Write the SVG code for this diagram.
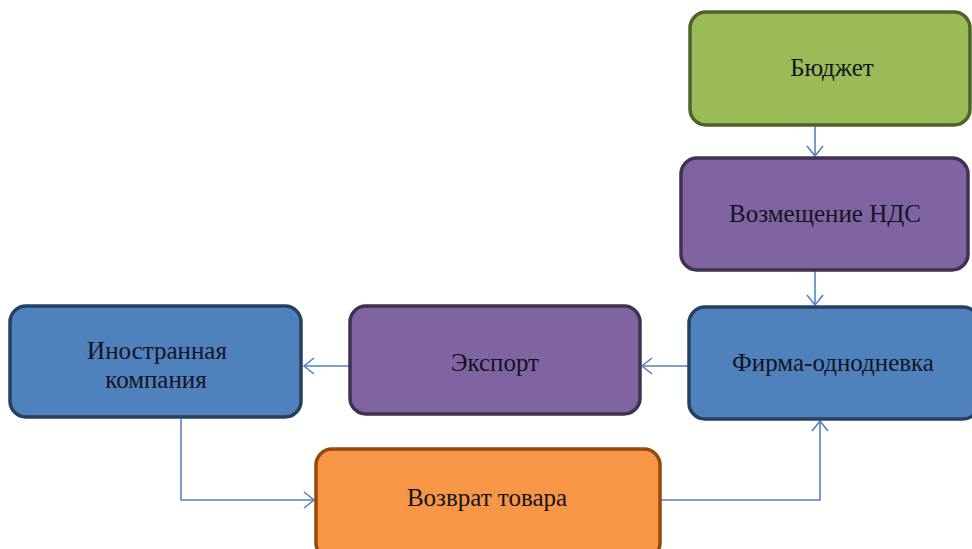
<svg xmlns="http://www.w3.org/2000/svg" width="972" height="549" viewBox="0 0 972 549">
<defs>
<style>
.box{stroke-width:3.5}
.g{fill:#9bbb59;stroke:#4f6228}
.p{fill:#8064a2;stroke:#3f3151}
.b{fill:#4f81bd;stroke:#244062}
.o{fill:#f79646;stroke:#984807}
.t{font-family:"Liberation Serif","Times New Roman",serif;font-size:25px;fill:#14141e;text-anchor:middle}
.c{fill:none;stroke:#5582bd;stroke-width:1.6}
</style>
<marker id="ah" markerUnits="userSpaceOnUse" markerWidth="20" markerHeight="20" viewBox="-12 -10 14 20" refX="0" refY="0" orient="auto">
<path d="M-10,-8 L0,0 L-10,8" fill="none" stroke="#5582bd" stroke-width="1.6"/>
</marker>
</defs>
<rect width="972" height="549" fill="#ffffff"/>
<g id="connectors">
<path class="c" d="M815,126 V156" marker-end="url(#ah)"/>
<path class="c" d="M815,271 V305" marker-end="url(#ah)"/>
<path class="c" d="M688,366 H642" marker-end="url(#ah)"/>
<path class="c" d="M349,366 H304" marker-end="url(#ah)"/>
<path class="c" d="M181,419 V500 H314" marker-end="url(#ah)"/>
<path class="c" d="M661,500 H820 V421" marker-end="url(#ah)"/>
</g>
<g id="budget">
<rect class="box g" x="690" y="12" width="280" height="113" rx="16"/>
<text class="t" x="832" y="76">Бюджет</text>
</g>
<g id="vat">
<rect class="box p" x="681" y="158" width="287" height="112" rx="16"/>
<text class="t" x="825" y="222">Возмещение НДС</text>
</g>
<g id="shell">
<rect class="box b" x="689" y="307" width="290" height="112" rx="16"/>
<text class="t" x="833" y="371">Фирма-однодневка</text>
</g>
<g id="export">
<rect class="box p" x="350" y="306" width="290" height="108" rx="16"/>
<text class="t" x="495" y="371">Экспорт</text>
</g>
<g id="foreign">
<rect class="box b" x="10" y="306" width="291" height="111" rx="16"/>
<text class="t" x="157" y="359">Иностранная</text>
<text class="t" x="156" y="388">компания</text>
</g>
<g id="return">
<rect class="box o" x="316" y="449" width="344" height="110" rx="16"/>
<text class="t" x="487" y="506">Возврат товара</text>
</g>
</svg>
